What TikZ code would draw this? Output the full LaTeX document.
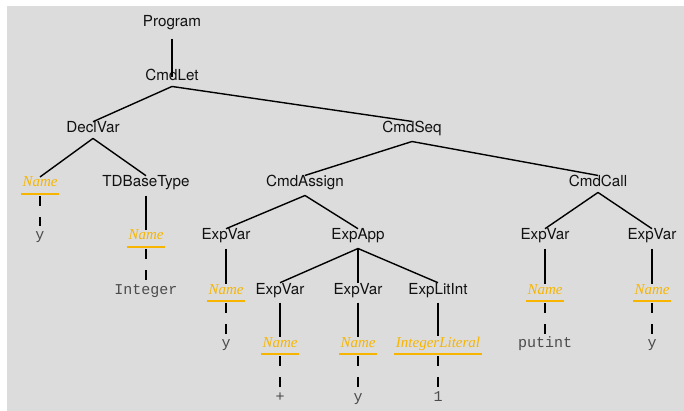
\documentclass[tikz,border=0pt]{standalone}
\usepackage{fontspec}
\setmainfont{TeX Gyre Heros}
\newfontfamily\namefont{Liberation Serif}
\setmonofont{Liberation Mono}
\definecolor{bgc}{RGB}{220,220,220}
\definecolor{namec}{RGB}{247,181,0}
\definecolor{leafc}{RGB}{75,75,75}
\definecolor{inkc}{RGB}{17,17,17}
\begin{document}
\begin{tikzpicture}[x=1pt,y=-1pt,
  every node/.style={inner sep=0pt, anchor=base},
  cls/.style={text=inkc, font={\fontsize{15.2}{18}\selectfont}},
  nm/.style={text=namec, font={\namefont\itshape\fontsize{15}{18}\selectfont}},
  lf/.style={text=leafc, font={\ttfamily\fontsize{15}{18}\selectfont}},
  edge/.style={line width=1.4pt, draw=black},
  dedge/.style={line width=1.4pt, draw=black, dash pattern=on 10pt off 11pt},
  uline/.style={line width=2pt, draw=namec}]
\useasboundingbox (0,0) rectangle (684,411);
\fill[bgc] (7,6) rectangle (684,411);

% class nodes
\node[cls] (prog) at (172,27) {Program};
\node[cls] (let) at (172,81) {CmdLet};
\node[cls] (decl) at (93,133) {DeclVar};
\node[cls] (seq) at (412,133) {CmdSeq};
\node[cls] (tdb) at (146,187) {TDBaseType};
\node[cls] (asg) at (305,187) {CmdAssign};
\node[cls] (call) at (598,187) {CmdCall};
\node[cls] (ev1) at (226,240) {ExpVar};
\node[cls] (app) at (358,240) {ExpApp};
\node[cls] (ev4) at (545,240) {ExpVar};
\node[cls] (ev5) at (652,240) {ExpVar};
\node[cls] (ev2) at (280,294) {ExpVar};
\node[cls] (ev3) at (358,294) {ExpVar};
\node[cls] (eli) at (438,294) {ExpLitInt};

% name nodes
\node[nm] (n1) at (40,187) {Name};
\node[nm] (n2) at (146,240) {Name};
\node[nm] (n3) at (226,294) {Name};
\node[nm] (n6) at (545,294) {Name};
\node[nm] (n7) at (652,294) {Name};
\node[nm] (n4) at (280,347) {Name};
\node[nm] (n5) at (358,347) {Name};
\node[nm] (il) at (438,347) {IntegerLiteral};

% leaves
\node[lf] (l1) at (40,240) {y};
\node[lf] (l2) at (146,294) {Integer};
\node[lf] (l3) at (226,347) {y};
\node[lf] (l6) at (545,347) {putint};
\node[lf] (l7) at (652,347) {y};
\node[lf] (l4) at (280,401) {+};
\node[lf] (l5) at (358,401) {y};
\node[lf] (l8) at (438,401) {1};

% underlines
\foreach \n in {n1,n2,n3,n4,n5,n6,n7,il}
  \draw[uline] ([shift={(-1.5pt,-7pt)}]\n.base west) -- ([shift={(1.5pt,-7pt)}]\n.base east);

% tree edges
\draw[edge] ([yshift=-8pt]prog.south) -- ([yshift=4pt]let.base);
\foreach \p/\c in {let/decl,let/seq,decl/n1,decl/tdb,seq/asg,seq/call,
                   tdb/n2,asg/ev1,asg/app,call/ev4,call/ev5,
                   ev1/n3,app/ev2,app/ev3,app/eli,ev4/n6,ev5/n7,
                   ev2/n4,ev3/n5,eli/il}
  \draw[edge] ([yshift=-5pt]\p.south) -- (\c.north);

% dashed edges to leaves
\foreach \n/\l in {n1/l1,n2/l2,n3/l3,n4/l4,n5/l5,n6/l6,n7/l7,il/l8}
  \draw[dedge] ([yshift=-9pt]\n.base) -- ([yshift=13.5pt]\l.base);
\end{tikzpicture}
\end{document}
